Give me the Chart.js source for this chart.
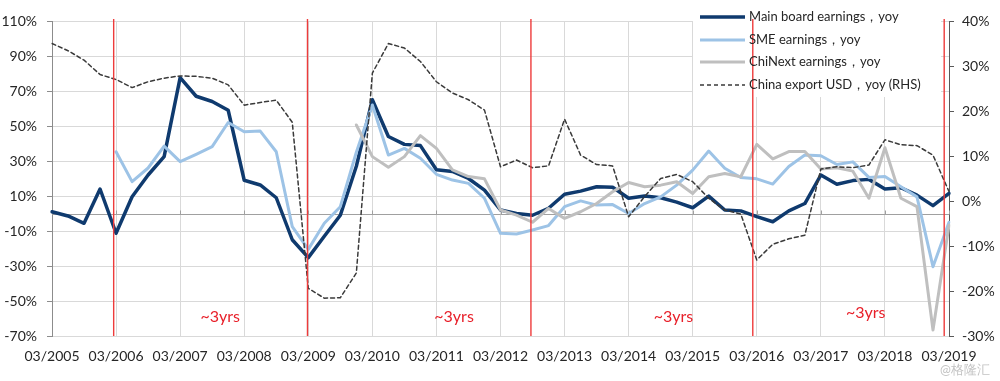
<!DOCTYPE html>
<html lang="en">
<head>
  <meta charset="UTF-8" />
  <title>A-share earnings vs China exports</title>
  <script src="https://cdn.jsdelivr.net/npm/chart.js"></script>
  <style>
    body {
      margin: 0;
      background: #fff;
      font-family: Lato, "Noto Sans", sans-serif;
    }
    .wrap {
      position: relative;
      width: 1000px;
      height: 381px;
    }
    canvas {
      display: block;
    }
    .legend {
      position: absolute;
      left: 700px;
      top: 6px;
      font-size: 13px;
      color: #262626;
    }
    .legend .row {
      display: flex;
      align-items: center;
      height: 22.5px;
      white-space: nowrap;
    }
    .legend svg {
      width: 45px;
      height: 8px;
      margin-right: 4px;
    }
    .mark {
      position: absolute;
      left: 940px;
      top: 361px;
      color: #c3c3c3;
      font-size: 13px;
    }
  </style>
</head>
<body>
  <div class="wrap">
    <canvas id="chart" width="1000" height="381"></canvas>
    <div class="legend">
      <div class="row"><svg><line x1="0" y1="4" x2="45" y2="4" stroke="#0f3a6e" stroke-width="3.5"/></svg>Main board earnings，yoy</div>
      <div class="row"><svg><line x1="0" y1="4" x2="45" y2="4" stroke="#9dc3e6" stroke-width="3"/></svg>SME earnings，yoy</div>
      <div class="row"><svg><line x1="0" y1="4" x2="45" y2="4" stroke="#bfbfbf" stroke-width="3"/></svg>ChiNext earnings，yoy</div>
      <div class="row"><svg><line x1="0" y1="4" x2="45" y2="4" stroke="#3a3a3a" stroke-width="1.5" stroke-dasharray="4 3"/></svg>China export USD，yoy (RHS)</div>
    </div>
    <div class="mark">@格隆汇</div>
  </div>

  <script>
    // quarterly labels 03/2005 .. 03/2019
    const quarters = [];
    for (let y = 2005; y <= 2019; y++) {
      ['03', '06', '09', '12'].forEach(m => {
        if (y < 2019 || m === '03') quarters.push(m + '/' + y);
      });
    }

    // earnings yoy, % (left axis)
    const mainBoard = [
      1.0, -1.4, -5.6, 14, -11.3, 9.6, 22, 32.5, 77.6, 67,
      64, 59, 19, 16.3, 9, -15, -25.2, -13, -1, 27,
      65, 44, 39.5, 38.8, 25, 24, 20, 13.4, 2, 0,
      -1, 3, 11, 12.8, 15.3, 15, 8.7, 10, 9, 6.5,
      3.3, 9.9, 2, 1.5, -1.8, -4.7, 1.5, 5.7, 22, 16.7,
      18.8, 19.5, 14, 14.7, 10.5, 4.5, 11.5
    ];
    const sme = [
      null, null, null, null, 35.3, 18.2, 26, 38.5, 29.6, 33.8,
      38.2, 52, 46.7, 47.1, 35.3, -7.5, -20.5, -5.6, 3.9, 35,
      62, 33.4, 37.2, 31.6, 22.4, 19.1, 17.2, 8.7, -11.3, -11.7,
      -9.4, -6.9, 3.9, 7.2, 4.8, 5.1, 0, 5.7, 9.5, 16.2,
      24.8, 35.7, 25.9, 20.6, 19.8, 16.8, 26.9, 33.4, 33, 28,
      29.5, 20.6, 21.1, 15.3, 9.5, -30.4, -5
    ];
    const chiNext = [
      null, null, null, null, null, null, null, null, null, null,
      null, null, null, null, null, null, null, null, null, 50.6,
      32.5, 26.4, 32.5, 44.5, 37.2, 24.9, 21.1, 19.8, 2, -0.9,
      -5, 2.9, -2.8, 1, 5.7, 12.4, 17.7, 15.3, 16.2, 18.1,
      11.4, 21, 22.9, 21, 39.5, 31.2, 35.4, 35.4, 25.4, 26.1,
      24.2, 8.7, 37.6, 8.7, 3.9, -66.6, -6.7
    ];
    // China exports in USD yoy, % (right axis)
    const exportsUsd = [
      35, 33.4, 31.3, 28.1, 27, 25.2, 26.5, 27.3, 27.8, 27.7,
      27.3, 25.8, 21.3, 21.9, 22.4, 17.5, -19.4, -21.6, -21.5, -16,
      28.4, 35, 34, 31, 26.5, 24, 22.5, 20.2, 7.6, 9.1,
      7.4, 7.8, 18.2, 10.2, 8.1, 7.8, -3.5, 1, 5, 5.9,
      4.3, 0.6, -2, -2.9, -13.1, -9.6, -8.4, -7.6, 7.1, 7.6,
      7.4, 8, 13.6, 12.5, 12.3, 10.2, 2.1
    ];

    // red cycle markers (position in quarters) and "~3yrs" notes
    const cycleMarks = [3.85, 15.95, 29.9, 43.75, 55.7];
    const cycleNotes = [
      { at: 10.5, v: -59 },
      { at: 25.1, v: -59 },
      { at: 38.8, v: -59 },
      { at: 50.8, v: -57 }
    ];

    const overlay = {
      id: 'overlay',
      beforeDatasetsDraw(chart) {
        const { ctx, chartArea, scales: { x, y } } = chart;
        ctx.save();
        // legend backdrop
        ctx.fillStyle = '#fff';
        ctx.fillRect(693, chartArea.top - 1, 248, 77);
        // zero line of the left axis
        const y0 = Math.round(y.getPixelForValue(0)) + 0.5;
        ctx.strokeStyle = '#a0a0a0';
        ctx.lineWidth = 1;
        ctx.beginPath();
        ctx.moveTo(chartArea.left, y0);
        ctx.lineTo(chartArea.right, y0);
        quarters.forEach((q, i) => {
          if (i % 4 === 0) {
            const px = Math.round(x.getPixelForValue(i)) + 0.5;
            ctx.moveTo(px, y0);
            ctx.lineTo(px, y0 - 4);
          }
        });
        ctx.stroke();
        ctx.restore();
      },
      afterDatasetsDraw(chart) {
        const { ctx, chartArea, scales: { x, y } } = chart;
        ctx.save();
        ctx.strokeStyle = '#ee3b3b';
        ctx.lineWidth = 1.4;
        cycleMarks.forEach(v => {
          const px = x.getPixelForValue(v);
          ctx.beginPath();
          ctx.moveTo(px, chartArea.top - 2);
          ctx.lineTo(px, chartArea.bottom);
          ctx.stroke();
        });
        ctx.fillStyle = '#e8202a';
        ctx.font = '16px Lato, "Noto Sans", sans-serif';
        ctx.textAlign = 'center';
        ctx.textBaseline = 'middle';
        cycleNotes.forEach(n => {
          ctx.fillText('~3yrs', x.getPixelForValue(n.at), y.getPixelForValue(n.v));
        });
        ctx.restore();
      }
    };

    Chart.defaults.font.family = 'Lato, "Noto Sans", sans-serif';
    Chart.defaults.font.size = 14;
    Chart.defaults.color = '#262626';

    new Chart(document.getElementById('chart'), {
      type: 'line',
      data: {
        labels: quarters,
        datasets: [{
          label: 'Main board earnings，yoy',
          data: mainBoard,
          yAxisID: 'y',
          borderColor: '#0f3a6e',
          borderWidth: 3.5,
          order: 4
        }, {
          label: 'SME earnings，yoy',
          data: sme,
          yAxisID: 'y',
          borderColor: '#9dc3e6',
          borderWidth: 3,
          order: 3
        }, {
          label: 'ChiNext earnings，yoy',
          data: chiNext,
          yAxisID: 'y',
          borderColor: '#bfbfbf',
          borderWidth: 3,
          order: 2
        }, {
          label: 'China export USD，yoy (RHS)',
          data: exportsUsd,
          yAxisID: 'y1',
          borderColor: '#3a3a3a',
          borderWidth: 1.5,
          borderDash: [4, 3],
          order: 1
        }]
      },
      options: {
        responsive: false,
        animation: false,
        layout: { padding: { top: 21, left: 0, right: 0, bottom: 0 } },
        plugins: {
          legend: { display: false },
          tooltip: { enabled: false }
        },
        elements: {
          point: { radius: 0 },
          line: { tension: 0, borderJoinStyle: 'round', borderCapStyle: 'round', fill: false }
        },
        scales: {
          x: {
            grid: {
              color: c => (c.index % 4 === 0 ? '#d9d9d9' : 'rgba(0,0,0,0)'),
              drawTicks: false
            },
            border: { display: false },
            ticks: {
              autoSkip: false,
              maxRotation: 0,
              padding: 12,
              callback: (v, i) => (i % 4 === 0 ? quarters[i] : '')
            },
            afterFit: s => { s.height = 45; }
          },
          y: {
            position: 'left',
            min: -70,
            max: 110,
            ticks: { stepSize: 20, padding: 10, callback: v => v + '%' },
            grid: { color: '#d9d9d9', tickColor: '#8c8c8c', tickLength: 5 },
            border: { color: '#8c8c8c' },
            afterFit: s => { s.width = 52; }
          },
          y1: {
            position: 'right',
            min: -30,
            max: 40,
            ticks: { stepSize: 10, padding: 8, callback: v => v + '%' },
            grid: { drawOnChartArea: false, tickColor: '#595959', tickLength: 5 },
            border: { color: '#595959' },
            afterFit: s => { s.width = 51; }
          }
        }
      },
      plugins: [overlay]
    });
  </script>
</body>
</html>
